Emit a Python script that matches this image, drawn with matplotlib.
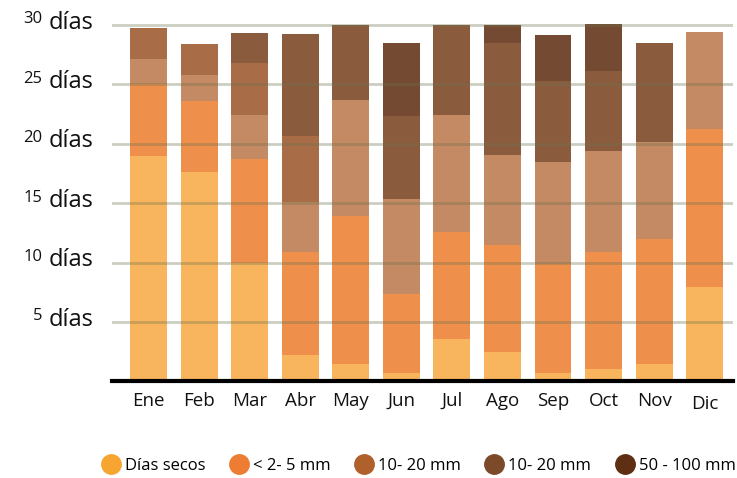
import matplotlib
matplotlib.use("Agg")
import matplotlib.pyplot as plt
from matplotlib.lines import Line2D
import numpy as np

months = ["Ene", "Feb", "Mar", "Abr", "May", "Jun", "Jul", "Ago", "Sep", "Oct", "Nov", "Dic"]

dias_secos = [19.0, 17.65, 10.0, 2.2, 1.45, 0.7, 3.6, 2.47, 0.68, 1.07, 1.44, 7.92]
lluvia_2_5 = [6.0, 5.95, 8.7, 8.7, 12.45, 6.63, 8.98, 9.01, 9.22, 9.83, 10.56, 13.35]
lluvia_5_10 = [2.1, 2.2, 3.7, 4.17, 9.75, 8.02, 9.82, 7.55, 8.57, 8.47, 8.15, 8.13]
lluvia_10_20_a = [2.65, 2.6, 4.4, 5.58, 0, 0, 0, 0, 0, 0, 0, 0]
lluvia_10_20_b = [0, 0, 2.5, 8.6, 6.35, 6.95, 7.6, 9.42, 6.79, 6.76, 8.33, 0]
lluvia_50_100 = [0, 0, 0, 0, 0, 6.2, 0, 1.55, 3.9, 3.95, 0, 0]

series = [dias_secos, lluvia_2_5, lluvia_5_10, lluvia_10_20_a, lluvia_10_20_b, lluvia_50_100]
bar_colors = ["#f9b55d", "#ee8f4c", "#c48a63", "#a86c47", "#8b5b3e", "#744b32"]

legend_labels = ["Días secos", "< 2- 5 mm", "10- 20 mm", "10- 20 mm", "50 - 100 mm"]
legend_colors = ["#f7a531", "#ee7d33", "#b0602b", "#7c4a29", "#5e2f12"]

y_ticks = [5, 10, 15, 20, 25, 30]

fig = plt.figure(figsize=(7.37, 4.78), dpi=100)
ax = fig.add_axes([112/737, (478-381.4)/478, (733-112)/737, (381.4-21.4)/478])

x = np.arange(len(months))
bottom = np.zeros(len(months))
for vals, col in zip(series, bar_colors):
    v = np.array(vals, dtype=float)
    ax.bar(x, v, bottom=bottom, width=0.73, color=col, linewidth=0, zorder=2)
    bottom += v

ax.set_xlim(-0.722, 11.56)
ax.set_ylim(0, 30.3)

for t in y_ticks:
    ax.axhline(t, color="#6e7350", alpha=0.35, lw=2.0, zorder=3)
ax.axhline(0, color="black", lw=3.0, zorder=4, clip_on=False)

for s in ax.spines.values():
    s.set_visible(False)
ax.set_xticks([])
ax.set_yticks([])

# month labels
for i, m in enumerate(months):
    dy = -10 if m == "Dic" else -7.5
    ax.annotate(m, xy=(i, 0), xycoords=("data", "axes fraction"), xytext=(0, dy),
                textcoords="offset points", ha="center", va="top",
                fontsize=13.5, family="Open Sans", color="#111111")

# y labels
for t in y_ticks:
    txt = ax.annotate("días", xy=(0, t), xycoords=("axes fraction", "data"),
                      xytext=(-(112-93)*0.72, -2.6), textcoords="offset points",
                      ha="right", va="baseline", fontsize=17, family="Open Sans",
                      color="#111111", annotation_clip=False)
    ax.annotate(str(t), xy=(0, 1), xycoords=txt, xytext=(-4.0, -0.6),
                textcoords="offset points", ha="right", va="top",
                fontsize=12, family="Open Sans", color="#111111")

handles = [Line2D([0], [0], marker="o", linestyle="none", markersize=14,
                  markerfacecolor=c, markeredgecolor=c) for c in legend_colors]
fig.legend(handles, legend_labels, loc="center", bbox_to_anchor=(0.5685, 1-466/478),
           ncol=5, frameon=False, handletextpad=0.35, columnspacing=1.5,
           prop={"family": "Open Sans", "size": 12}, handlelength=1.0)

fig.savefig("out.png", dpi=100)
